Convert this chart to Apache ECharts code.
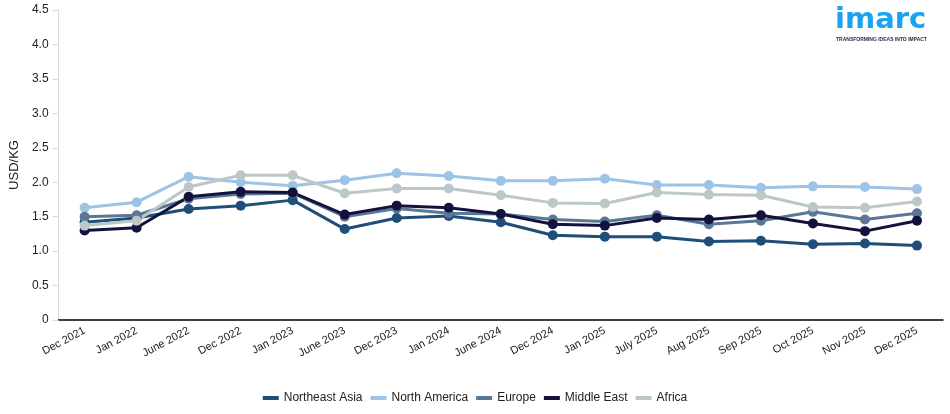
<!DOCTYPE html>
<html>
<head>
<meta charset="utf-8">
<script src="https://cdn.jsdelivr.net/npm/echarts@6/dist/echarts.min.js"></script>
<style>html,body{margin:0;padding:0;background:#fff;}#c{width:950px;height:414px;}</style>
</head>
<body>
<div id="c"></div>
<script>
const categories = ['Dec 2021','Jan 2022','June 2022','Dec 2022','Jan 2023','June 2023','Dec 2023','Jan 2024','June 2024','Dec 2024','Jan 2025','July 2025','Aug 2025','Sep 2025','Oct 2025','Nov 2025','Dec 2025'];
const northeastAsia = [1.42,1.48,1.61,1.66,1.74,1.32,1.48,1.51,1.42,1.23,1.21,1.21,1.14,1.15,1.10,1.11,1.08];
const northAmerica  = [1.63,1.71,2.08,2.00,1.95,2.03,2.13,2.09,2.02,2.02,2.05,1.96,1.96,1.92,1.94,1.93,1.90];
const europe        = [1.50,1.52,1.76,1.83,1.84,1.50,1.62,1.55,1.54,1.46,1.43,1.52,1.39,1.44,1.57,1.46,1.55];
const middleEast    = [1.30,1.34,1.79,1.86,1.85,1.53,1.66,1.63,1.54,1.39,1.37,1.48,1.46,1.52,1.40,1.29,1.44];
const africa        = [1.37,1.44,1.93,2.10,2.10,1.84,1.91,1.91,1.81,1.70,1.69,1.85,1.82,1.81,1.64,1.63,1.72];
const yTicks = [0,0.5,1.0,1.5,2.0,2.5,3.0,3.5,4.0,4.5];

const seriesDefs = [
  {name:'Northeast Asia', data:northeastAsia, color:'#1f4e79'},
  {name:'North America', data:northAmerica, color:'#9dc3e6'},
  {name:'Europe', data:europe, color:'#5a7896'},
  {name:'Middle East', data:middleEast, color:'#12123d'},
  {name:'Africa', data:africa, color:'#bcc7c7'}
];

const chart = echarts.init(document.getElementById('c'), null, {renderer:'canvas'});
chart.setOption({
  animation:false,
  textStyle:{fontFamily:'Liberation Sans, Arial, sans-serif'},
  grid:{left:55, right:7, top:10, bottom:94, containLabel:false},
  legend:{
    bottom:5, left:'center',
    itemWidth:16, itemHeight:4, itemGap:8,
    icon:'rect',
    textStyle:{fontSize:12, color:'#222', fontFamily:'Liberation Sans, Arial, sans-serif'},
    data: seriesDefs.map(s=>({name:s.name, itemStyle:{color:s.color}}))
  },
  xAxis:{
    type:'category', data:categories, boundaryGap:true,
    axisLine:{lineStyle:{color:'#000', width:1.5}},
    axisTick:{alignWithLabel:true, length:6, lineStyle:{color:'#000'}},
    axisLabel:{rotate:28, fontSize:11, color:'#222', interval:0, margin:10}
  },
  yAxis:{
    type:'value', min:0, max:4.5, interval:0.5,
    name:'USD/KG', nameLocation:'middle', nameGap:36, nameRotate:90,
    nameTextStyle:{fontSize:13, color:'#222'},
    axisLine:{show:true, lineStyle:{color:'#d9d9d9'}},
    axisTick:{show:true, length:6, lineStyle:{color:'#d9d9d9'}},
    splitLine:{show:false},
    axisLabel:{fontSize:12, color:'#222', margin:10,
      formatter:function(v){ return v===0 ? '0' : v.toFixed(1); }}
  },
  series: seriesDefs.map(s=>({
    name:s.name, type:'line', data:s.data,
    symbol:'circle', symbolSize:10,
    lineStyle:{color:s.color, width:3},
    itemStyle:{color:s.color},
    z: 2
  })),
  graphic:[
    {type:'text', left:835, top:6, style:{text:'imarc', fontSize:29, fontWeight:'bold', fill:'#1aa3f0', fontFamily:'DejaVu Sans, sans-serif'}},
    {type:'text', left:836, top:37, style:{text:'TRANSFORMING IDEAS INTO IMPACT', fontSize:5, fontWeight:'bold', fill:'#1a2a40', fontFamily:'Liberation Sans, Arial, sans-serif'}}
  ]
});
</script>
</body>
</html>
